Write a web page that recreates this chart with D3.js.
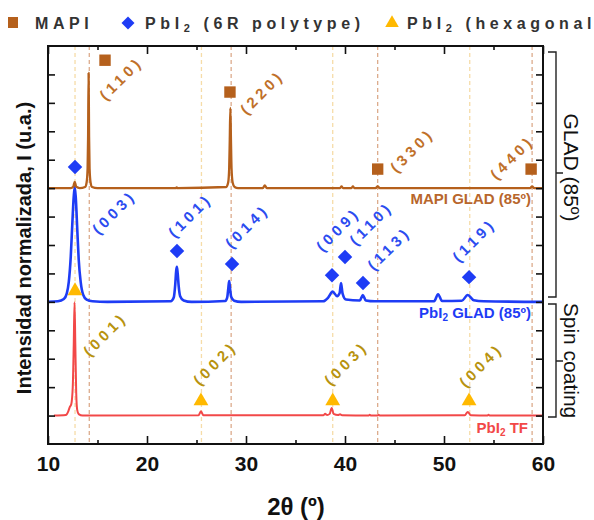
<!DOCTYPE html>
<html>
<head>
<meta charset="utf-8">
<script src="https://cdn.jsdelivr.net/npm/d3@7"></script>
<style>
  body { margin: 0; background: #fff; }
  text { font-family: "Liberation Sans", Arial, sans-serif; }
</style>
</head>
<body>
<div id="chart"></div>
<script>
// traces: [2theta, normalized intensity]
let mapiGlad = [
    [10, 9.0], [12.3, 9.0], [12.55, 9.05], [12.7, 9.22], [12.85, 9.05], [13.2, 9.0],
    [13.75, 9.04], [13.9, 9.2], [14.0, 9.7], [14.05, 10.8], [14.1, 13.05], [14.15, 10.8],
    [14.2, 9.7], [14.3, 9.2], [14.45, 9.04], [15, 9.0], [22.9, 9.0], [23.0, 9.03], [23.1, 9.0],
    [28.0, 9.04], [28.2, 9.2], [28.3, 9.7], [28.36, 10.7], [28.42, 11.82], [28.48, 10.7],
    [28.54, 9.7], [28.65, 9.2], [28.85, 9.04], [29.2, 9.0], [31.7, 9.0], [31.9, 9.1], [32.1, 9.0],
    [39.5, 9.0], [39.65, 9.06], [39.8, 9.0], [40.65, 9.0], [40.8, 9.06], [40.95, 9.0],
    [43.1, 9.0], [43.3, 9.07], [43.5, 9.0], [58.7, 9.0], [58.9, 9.06], [59.1, 9.0], [60, 9.0]
];
let pbi2Glad = [
    [10, 5.0], [11.0, 5.02], [11.6, 5.1], [11.9, 5.3], [12.1, 5.7], [12.3, 6.6], [12.45, 7.7],
    [12.6, 8.7], [12.7, 9.04], [12.8, 8.7], [12.95, 7.6], [13.1, 6.5], [13.3, 5.7], [13.55, 5.25],
    [13.9, 5.08], [14.5, 5.02], [16, 5.0], [22.4, 5.02], [22.7, 5.15], [22.85, 5.6], [22.95, 6.1],
    [23.02, 6.23], [23.1, 6.0], [23.2, 5.55], [23.35, 5.2], [23.7, 5.05], [24.5, 5.0],
    [27.9, 5.03], [28.1, 5.15], [28.22, 5.5], [28.3, 5.73], [28.38, 5.5], [28.5, 5.18], [28.8, 5.04],
    [29.5, 5.0], [37.8, 5.02], [38.3, 5.15], [38.75, 5.36], [39.2, 5.2], [39.45, 5.3], [39.6, 5.66],
    [39.75, 5.3], [40.1, 5.08], [41.5, 5.05], [41.8, 5.24], [42.1, 5.05], [43, 5.02], [49.0, 5.02],
    [49.4, 5.27], [49.8, 5.03], [51.8, 5.04], [52.4, 5.24], [53.0, 5.06], [54, 5.02], [60, 5.0]
];
let pbi2Tf = [
    [10.6, 1.0], [11.8, 1.02], [12.05, 1.15], [12.2, 1.3], [12.35, 1.4], [12.5, 2.0], [12.6, 3.5],
    [12.68, 4.99], [12.76, 3.5], [12.85, 1.8], [12.95, 1.2], [13.1, 1.05], [13.5, 1.0],
    [25.2, 1.01], [25.45, 1.15], [25.7, 1.01], [37.8, 1.01], [38.0, 1.06], [38.2, 1.02],
    [38.45, 1.06], [38.66, 1.27], [38.85, 1.06], [39.3, 1.02], [39.5, 1.05], [39.7, 1.01],
    [42.4, 1.0], [42.5, 1.03], [42.6, 1.0], [43.3, 1.0], [43.4, 1.03], [43.5, 1.0],
    [52.1, 1.01], [52.4, 1.13], [52.7, 1.01], [54.4, 1.0], [54.5, 1.03], [54.6, 1.0], [60, 1.0]
];

// reference lines
let hexLines = [12.73, 25.5, 38.76, 52.6];
let mapiLines = [14.17, 28.5, 43.3, 58.9];

// markers: [2theta, height]
let mapiMarks = [[15.76, 13.5], [28.38, 12.38], [43.3, 9.67], [58.8, 9.67]];
let rhombMarks = [[12.73, 9.74], [23.03, 6.79], [28.59, 6.33], [38.69, 5.94], [40.0, 6.58], [41.82, 5.66], [52.53, 5.87]];
let hexMarks = [[12.73, 5.42], [25.45, 1.55], [38.76, 1.55], [52.53, 1.55]];

// hkl labels: [text, 2theta, height]
let mapiHkl = [["(110)", 17.37, 12.87], ["(220)", 31.62, 12.38], ["(330)", 46.77, 10.34], ["(440)", 56.87, 10.09]];
let rhombHkl = [["(003)", 16.67, 8.16], ["(101)", 24.34, 8.05], ["(014)", 30.1, 7.67], ["(009)", 39.29, 7.56],
    ["(110)", 42.63, 7.77], ["(113)", 44.44, 6.89], ["(119)", 53.03, 7.18]];
let hexHkl = [["(001)", 15.76, 3.87], ["(002)", 26.87, 2.85], ["(003)", 40.1, 2.85], ["(004)", 53.74, 2.78]];

let xTicks = [10, 20, 30, 40, 50, 60];
let xMinor = [15, 25, 35, 45, 55];
let yTicks = [1, 2, 3, 4, 5, 6, 7, 8, 9, 10, 11, 12, 13];

let brown = "#b5601c", blue = "#1e3cf5", red = "#f24848", gold = "#ffb900", olive = "#b8930f";

let W = 594, H = 520;
let margin = { top: 46, right: 51, bottom: 76, left: 48 };

let svg = d3.select("#chart").append("svg").attr("width", W).attr("height", H);

let x = d3.scaleLinear().domain([10, 60]).range([margin.left, W - margin.right]);
let y = d3.scaleLinear().domain([0, 14]).range([H - margin.bottom, margin.top]);

// dashed guide lines
svg.append("g").selectAll("line").data(hexLines).enter().append("line")
    .attr("x1", d => x(d)).attr("x2", d => x(d)).attr("y1", y(14)).attr("y2", y(0))
    .attr("stroke", "#f6dca8").attr("stroke-width", 1.3).attr("stroke-dasharray", "4,3");
svg.append("g").selectAll("line").data(mapiLines).enter().append("line")
    .attr("x1", d => x(d)).attr("x2", d => x(d)).attr("y1", y(14)).attr("y2", y(0))
    .attr("stroke", "#dcab8c").attr("stroke-width", 1.3).attr("stroke-dasharray", "4,3");

// traces
let line = d3.line().x(d => x(d[0])).y(d => y(d[1])).curve(d3.curveMonotoneX);
[[pbi2Tf, red, 2], [pbi2Glad, blue, 2.6], [mapiGlad, brown, 2.3]].forEach(([s, c, w]) => {
    svg.append("path").datum(s).attr("d", line)
        .attr("fill", "none").attr("stroke", c).attr("stroke-width", w).attr("stroke-linejoin", "round");
});

// markers
let sq = d3.symbol().type(d3.symbolSquare).size(130);
let tri = d3.symbol().type(d3.symbolTriangle).size(95);
svg.append("g").selectAll("path").data(mapiMarks).enter().append("path")
    .attr("d", sq).attr("fill", brown)
    .attr("transform", d => `translate(${x(d[0])},${y(d[1])})`);
svg.append("g").selectAll("path").data(rhombMarks).enter().append("path")
    .attr("d", d3.symbol().type(d3.symbolSquare).size(105)).attr("fill", blue)
    .attr("transform", d => `translate(${x(d[0])},${y(d[1])}) rotate(45)`);
svg.append("g").selectAll("path").data(hexMarks).enter().append("path")
    .attr("d", tri).attr("fill", gold)
    .attr("transform", d => `translate(${x(d[0])},${y(d[1]) + 1})`);

// hkl labels
function hkl(data, color) {
    svg.append("g").selectAll("text").data(data).enter().append("text")
        .attr("transform", d => `translate(${x(d[1])},${y(d[2])}) rotate(-45)`)
        .attr("text-anchor", "middle").attr("dominant-baseline", "central")
        .attr("font-size", 15).attr("font-weight", "bold").attr("letter-spacing", "4px")
        .attr("fill", color).text(d => d[0]);
}
hkl(mapiHkl, "#c0702a");
hkl(rhombHkl, "#2b4cf0");
hkl(hexHkl, olive);

// sample names
let names = svg.append("g").attr("font-weight", "bold").attr("font-size", 15).attr("text-anchor", "end");
names.append("text").attr("x", 531).attr("y", 204).attr("fill", "#b8662c").text("MAPI GLAD (85º)");
let n2 = names.append("text").attr("x", 531).attr("y", 318).attr("fill", blue);
n2.append("tspan").text("PbI");
n2.append("tspan").attr("font-size", 10).attr("dy", 3).text("2");
n2.append("tspan").attr("dy", -3).text(" GLAD (85º)");
let n3 = names.append("text").attr("x", 528).attr("y", 433).attr("fill", red);
n3.append("tspan").text("PbI");
n3.append("tspan").attr("font-size", 10).attr("dy", 3).text("2");
n3.append("tspan").attr("dy", -3).text(" TF");

// axes
let ax = svg.append("g").attr("font-weight", "bold");
ax.append("g").attr("transform", `translate(0,${y(0)})`)
    .call(d3.axisBottom(x).tickValues(xTicks).tickSize(-8).tickPadding(12).tickFormat(d3.format("d")));
ax.append("g").attr("transform", `translate(0,${y(0)})`)
    .call(d3.axisBottom(x).tickValues(xMinor).tickSize(-4).tickFormat(""));
ax.append("g").attr("transform", `translate(0,${y(14)})`)
    .call(d3.axisTop(x).tickValues(xTicks).tickSize(-8).tickFormat(""));
ax.append("g").attr("transform", `translate(0,${y(14)})`)
    .call(d3.axisTop(x).tickValues(xMinor).tickSize(-4).tickFormat(""));
ax.append("g").attr("transform", `translate(${x(10)},0)`)
    .call(d3.axisLeft(y).tickValues(yTicks).tickSize(-7).tickFormat(""));
ax.append("g").attr("transform", `translate(${x(60)},0)`)
    .call(d3.axisRight(y).tickValues(yTicks).tickSize(-7).tickFormat(""));
ax.selectAll(".domain").remove();
ax.selectAll(".tick line").attr("stroke", "#111").attr("stroke-width", 1.6);
ax.selectAll(".tick text").attr("font-size", 21).attr("fill", "#111")
    .attr("font-family", "Liberation Sans, Arial, sans-serif");
svg.append("rect").attr("x", x(10)).attr("y", y(14))
    .attr("width", x(60) - x(10)).attr("height", y(0) - y(14))
    .attr("fill", "none").attr("stroke", "#111").attr("stroke-width", 2);

// axis titles
svg.append("text").attr("x", 296).attr("y", 515).attr("text-anchor", "middle")
    .attr("font-size", 24).attr("font-weight", "bold").attr("fill", "#111").text("2θ (º)");
svg.append("text").attr("transform", "translate(31,248) rotate(-90)").attr("text-anchor", "middle")
    .attr("font-size", 20).attr("font-weight", "bold").attr("fill", "#111")
    .text("Intensidad normalizada, I (u.a.)");

// brackets on the right
let groups = [{ name: "GLAD (85º)", top: 52, bot: 297, mid: 173 }, { name: "Spin coating", top: 304, bot: 417, mid: 361 }];
let br = svg.append("g");
groups.forEach(g => {
    br.append("path")
        .attr("d", `M548,${g.top} H556 V${g.bot} H548 M556,${g.mid} H563`)
        .attr("fill", "none").attr("stroke", "#222").attr("stroke-width", 1.4);
    br.append("text").attr("transform", `translate(571,${(g.top + g.bot) / 2 + (g.name[0] == "G" ? -7 : 0)}) rotate(90)`)
        .attr("text-anchor", "middle").attr("dominant-baseline", "central")
        .attr("font-size", 21).attr("fill", "#111").text(g.name);
});

// legend
let leg = svg.append("g").attr("font-size", 16).attr("font-weight", "bold").attr("fill", "#333").attr("letter-spacing", "4.6px");
leg.append("rect").attr("x", 8).attr("y", 17).attr("width", 10).attr("height", 11).attr("fill", brown);
leg.append("text").attr("x", 35).attr("y", 28.5).text("MAPI");
leg.append("path").attr("d", d3.symbol().type(d3.symbolSquare).size(85))
    .attr("transform", "translate(128,23) rotate(45)").attr("fill", blue);
let l2 = leg.append("text").attr("x", 145).attr("y", 28.5);
l2.append("tspan").text("PbI");
l2.append("tspan").attr("font-size", 11).attr("dy", 3).text("2");
l2.append("tspan").attr("dy", -3).text(" (6R polytype)");
leg.append("path").attr("d", d3.symbol().type(d3.symbolTriangle).size(80))
    .attr("transform", "translate(392,23)").attr("fill", gold);
let l3 = leg.append("text").attr("x", 407).attr("y", 28.5);
l3.append("tspan").text("PbI");
l3.append("tspan").attr("font-size", 11).attr("dy", 3).text("2");
l3.append("tspan").attr("dy", -3).text(" (hexagonal)");
</script>
</body>
</html>
